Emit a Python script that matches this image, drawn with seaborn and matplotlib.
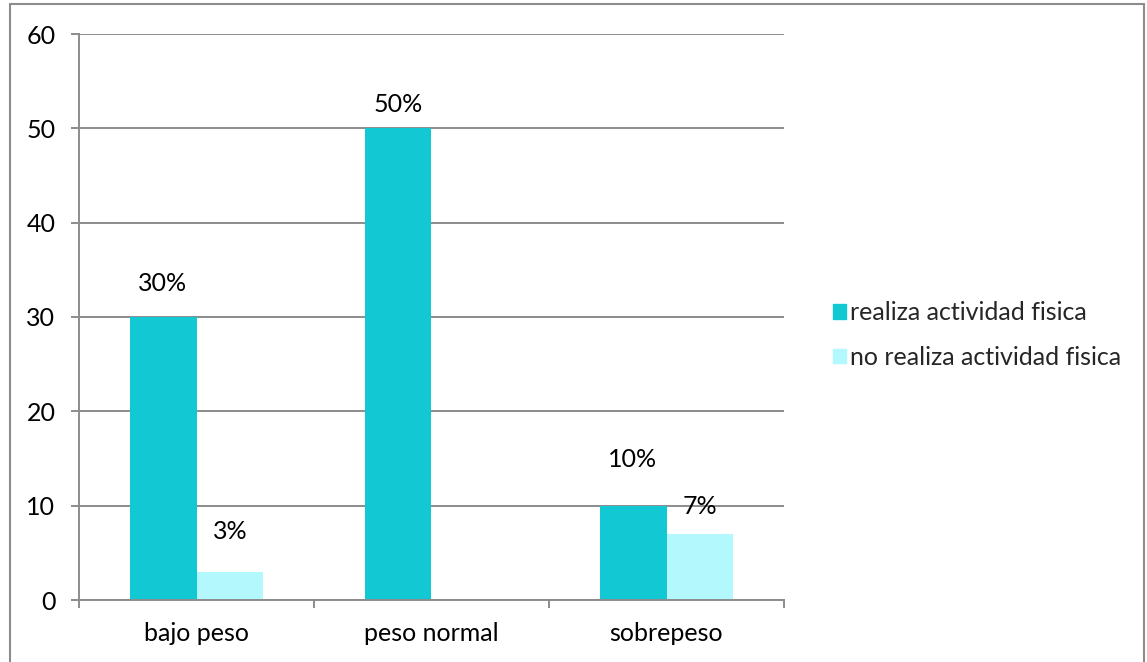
import matplotlib
matplotlib.use("Agg")
import matplotlib.pyplot as plt
import seaborn as sns
import pandas as pd
from matplotlib.lines import Line2D

# Data
categories = ["bajo peso", "peso normal", "sobrepeso"]
series_names = ["realiza actividad fisica", "no realiza actividad fisica"]
realiza = [30, 50, 10]
no_realiza = [3, 0, 7]
labels_realiza = ["30%", "50%", "10%"]
labels_no_realiza = ["3%", "", "7%"]
y_ticks = [0, 10, 20, 30, 40, 50, 60]

colors = ["#12C9D3", "#B3F8FC"]
grid_color = "#8C8C8C"
FS = 18

df = pd.DataFrame({
    "categoria": categories * 2,
    "serie": [series_names[0]] * 3 + [series_names[1]] * 3,
    "valor": realiza + no_realiza,
})

sns.set_theme(style="white")
plt.rcParams["font.family"] = ["Lato", "DejaVu Sans"]

fig = plt.figure(figsize=(11.47, 6.62), dpi=100)
ax = fig.add_axes([79 / 1147, 1 - 600 / 662, (784 - 79) / 1147, (600 - 34) / 662])

sns.barplot(data=df, x="categoria", y="valor", hue="serie", order=categories,
            hue_order=series_names, palette=colors, width=0.57, saturation=1,
            ax=ax, legend=False)
for p in ax.patches:
    p.set_linewidth(0)

ax.set_xlim(-0.5, 2.5)
ax.set_ylim(0, 60)
ax.set_yticks(y_ticks)
ax.set_xlabel("")
ax.set_ylabel("")
ax.yaxis.grid(True, color=grid_color, linewidth=1.4)
ax.set_axisbelow(True)
for s in ["top", "right"]:
    ax.spines[s].set_visible(False)
for s in ["left", "bottom"]:
    ax.spines[s].set_color(grid_color)
    ax.spines[s].set_linewidth(1.4)

ax.tick_params(axis="y", length=6, width=1.4, color=grid_color, labelsize=FS,
               pad=11, left=True, labelcolor="black")
ax.tick_params(axis="x", which="major", length=0, labelsize=FS, pad=16,
               labelcolor="black")
ax.set_xticks([-0.5, 0.5, 1.5, 2.5], minor=True)
ax.tick_params(axis="x", which="minor", length=6, width=1.4, color=grid_color,
               bottom=True)

# value labels above bars
offsets_realiza = [24, 17, 33]
offsets_no = [29, 0, 20]
bar_w = 0.57 / 2
for i in range(3):
    ax.annotate(labels_realiza[i], (i - bar_w / 2, realiza[i]),
                xytext=(0, offsets_realiza[i]), textcoords="offset points",
                ha="center", va="center", fontsize=FS, color="black")
    if labels_no_realiza[i]:
        ax.annotate(labels_no_realiza[i], (i + bar_w / 2, no_realiza[i]),
                    xytext=(0, offsets_no[i]), textcoords="offset points",
                    ha="center", va="center", fontsize=FS, color="black")

# legend
handles = [plt.Rectangle((0, 0), 1, 1, color=c) for c in colors]
fig.legend(handles, series_names, loc="center left",
           bbox_to_anchor=(833 / 1147, 1 - 335 / 662), frameon=False,
           fontsize=FS, handlelength=0.5, handleheight=0.5, handletextpad=0.2,
           labelspacing=0.85, borderaxespad=0, borderpad=0)

# outer frame
for xs, ys in [([10, 10], [700, 4]), ([10, 1144], [4, 4]), ([1144, 1144], [4, 700])]:
    fig.add_artist(Line2D([x / 1147 for x in xs], [1 - y / 662 for y in ys],
                          color="#8C8C8C", linewidth=1.5))

fig.savefig("out.png", dpi=100)
